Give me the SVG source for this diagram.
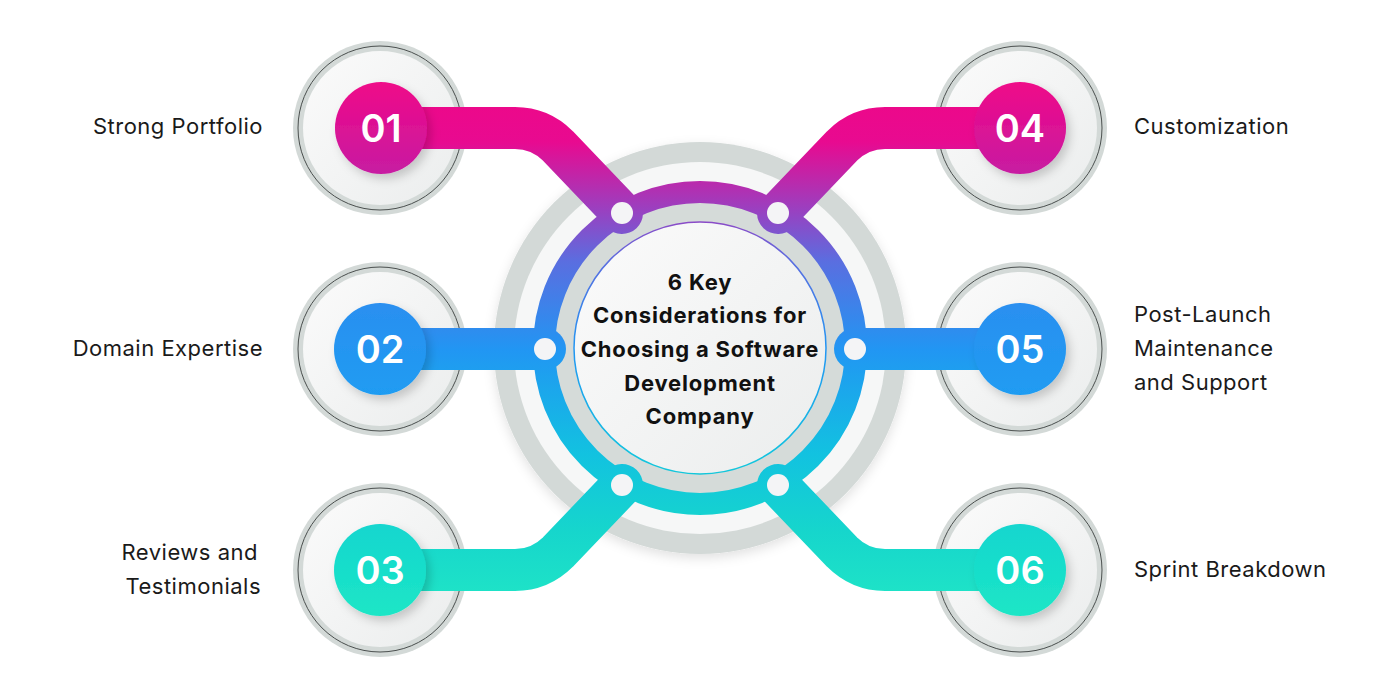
<svg xmlns="http://www.w3.org/2000/svg" width="1400" height="700" viewBox="0 0 1400 700">
  <defs>
    <linearGradient id="flow" gradientUnits="userSpaceOnUse" x1="0" y1="90" x2="0" y2="610">
      <stop offset="0" stop-color="#ee0888"/>
      <stop offset="0.1" stop-color="#e80a90"/>
      <stop offset="0.23" stop-color="#9a40c0"/>
      <stop offset="0.33" stop-color="#5a6ee0"/>
      <stop offset="0.5" stop-color="#2196f3"/>
      <stop offset="0.7" stop-color="#12c2e0"/>
      <stop offset="0.85" stop-color="#16d6cc"/>
      <stop offset="1" stop-color="#20e6c6"/>
    </linearGradient>
    <linearGradient id="pink" x1="0" y1="0" x2="0" y2="1">
      <stop offset="0" stop-color="#ef0888"/>
      <stop offset="1" stop-color="#c71ca2"/>
    </linearGradient>
    <linearGradient id="blue" x1="0" y1="0" x2="0" y2="1">
      <stop offset="0" stop-color="#2a8ff0"/>
      <stop offset="1" stop-color="#1f9cf2"/>
    </linearGradient>
    <linearGradient id="teal" x1="0" y1="0" x2="0" y2="1">
      <stop offset="0" stop-color="#12d6cf"/>
      <stop offset="1" stop-color="#1de6c6"/>
    </linearGradient>
    <linearGradient id="plateFill" x1="0" y1="0" x2="1" y2="1">
      <stop offset="0" stop-color="#fbfbfb"/>
      <stop offset="1" stop-color="#ebeded"/>
    </linearGradient>
    <filter id="shadow" x="-40%" y="-40%" width="180%" height="180%">
      <feDropShadow dx="4" dy="5" stdDeviation="5" flood-color="#000" flood-opacity="0.18"/>
    </filter>
    <filter id="soft" x="-20%" y="-20%" width="140%" height="140%">
      <feDropShadow dx="0" dy="4" stdDeviation="6" flood-color="#000" flood-opacity="0.12"/>
    </filter>
  </defs>
  <style>
    .plate-outer { fill: #d3d9d7; }
    .plate-line { fill: none; stroke: #4a4f4e; stroke-width: 1; }
    .plate-inner { fill: url(#plateFill); }
    .bar { fill: none; stroke: url(#flow); stroke-width: 42; stroke-linecap: round; stroke-linejoin: round; }
    .dot { fill: #f4f4f6; }
    .num { font-family: "Inter", "Liberation Sans", sans-serif; font-weight: 600; font-size: 38px; fill: #ffffff; text-anchor: middle; }
    .label { font-family: "Inter", "Liberation Sans", sans-serif; font-size: 22px; letter-spacing: 0.5px; fill: #1a1a1a; }
    .left { text-anchor: end; }
    .title { font-family: "Inter", "Liberation Sans", sans-serif; font-weight: 700; font-size: 22px; letter-spacing: 0.8px; fill: #111111; text-anchor: middle; }
  </style>
  <rect width="1400" height="700" fill="#ffffff"/>

  <g id="plates">
    <g transform="translate(380,128)"><circle r="87" class="plate-outer"/><circle r="77" class="plate-inner"/><circle r="82" class="plate-line"/></g>
    <g transform="translate(380,349)"><circle r="87" class="plate-outer"/><circle r="77" class="plate-inner"/><circle r="82" class="plate-line"/></g>
    <g transform="translate(380,570)"><circle r="87" class="plate-outer"/><circle r="77" class="plate-inner"/><circle r="82" class="plate-line"/></g>
    <g transform="translate(1020,128)"><circle r="87" class="plate-outer"/><circle r="77" class="plate-inner"/><circle r="82" class="plate-line"/></g>
    <g transform="translate(1020,349)"><circle r="87" class="plate-outer"/><circle r="77" class="plate-inner"/><circle r="82" class="plate-line"/></g>
    <g transform="translate(1020,570)"><circle r="87" class="plate-outer"/><circle r="77" class="plate-inner"/><circle r="82" class="plate-line"/></g>
  </g>

  <g id="center-rings">
    <circle cx="700" cy="348" r="206" fill="#d3d9d7" filter="url(#soft)"/>
    <circle cx="700" cy="348" r="186" fill="#f6f7f7"/>
    <circle cx="700" cy="348" r="146" fill="#d5dbd9"/>
    <circle cx="700" cy="348" r="156" fill="none" stroke="url(#flow)" stroke-width="22"/>
  </g>

  <g id="connectors">
    <path class="bar" d="M 400 128 H 515 Q 540 128 558 146 L 622 213"/>
    <path class="bar" d="M 1000 128 H 885 Q 860 128 842 146 L 778 213"/>
    <path class="bar" d="M 400 349 H 545"/>
    <path class="bar" d="M 1000 349 H 855"/>
    <path class="bar" d="M 400 570 H 515 Q 540 570 558 552 L 622 485"/>
    <path class="bar" d="M 1000 570 H 885 Q 860 570 842 552 L 778 485"/>
    <circle class="dot" cx="622" cy="213" r="11"/>
    <circle class="dot" cx="778" cy="213" r="11"/>
    <circle class="dot" cx="545" cy="349" r="11"/>
    <circle class="dot" cx="855" cy="349" r="11"/>
    <circle class="dot" cx="622" cy="485" r="11"/>
    <circle class="dot" cx="778" cy="485" r="11"/>
  </g>

  <g id="center">
    <circle cx="700" cy="348" r="126" fill="url(#plateFill)" stroke="url(#flow)" stroke-width="1.5"/>
    <text class="title" x="700" y="290">6 Key</text>
    <text class="title" x="700" y="323">Considerations for</text>
    <text class="title" x="700" y="357">Choosing a Software</text>
    <text class="title" x="700" y="391">Development</text>
    <text class="title" x="700" y="424">Company</text>
  </g>

  <g id="node-01">
    <circle cx="381" cy="128" r="46" fill="url(#pink)" filter="url(#shadow)"/>
    <text class="num" x="381" y="142">01</text>
    <text class="label left" x="263" y="134">Strong Portfolio</text>
  </g>
  <g id="node-02">
    <circle cx="380" cy="349" r="46" fill="url(#blue)" filter="url(#shadow)"/>
    <text class="num" x="380" y="363">02</text>
    <text class="label left" x="263" y="356">Domain Expertise</text>
  </g>
  <g id="node-03">
    <circle cx="380" cy="570" r="46" fill="url(#teal)" filter="url(#shadow)"/>
    <text class="num" x="380" y="584">03</text>
    <text class="label left" x="258" y="560">Reviews and</text>
    <text class="label left" x="261" y="594">Testimonials</text>
  </g>
  <g id="node-04">
    <circle cx="1020" cy="128" r="46" fill="url(#pink)" filter="url(#shadow)"/>
    <text class="num" x="1020" y="142">04</text>
    <text class="label" x="1134" y="134">Customization</text>
  </g>
  <g id="node-05">
    <circle cx="1020" cy="349" r="46" fill="url(#blue)" filter="url(#shadow)"/>
    <text class="num" x="1020" y="363">05</text>
    <text class="label" x="1134" y="322">Post-Launch</text>
    <text class="label" x="1134" y="356">Maintenance</text>
    <text class="label" x="1134" y="390">and Support</text>
  </g>
  <g id="node-06">
    <circle cx="1020" cy="570" r="46" fill="url(#teal)" filter="url(#shadow)"/>
    <text class="num" x="1020" y="584">06</text>
    <text class="label" x="1134" y="577">Sprint Breakdown</text>
  </g>
</svg>
